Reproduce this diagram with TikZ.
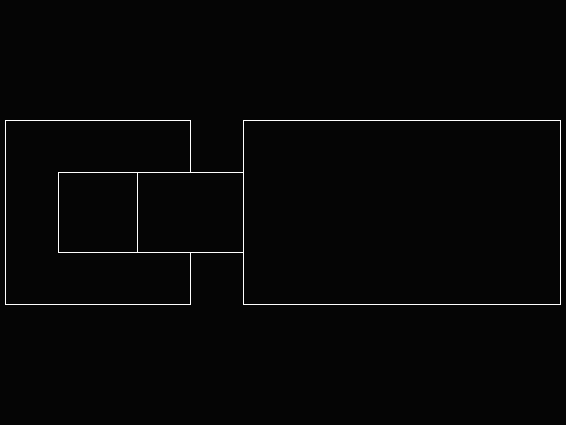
\documentclass[tikz,border=0pt]{standalone}
\definecolor{bg}{RGB}{5,5,5}
\begin{document}
\begin{tikzpicture}[x=1pt,y=-1pt,
  box/.style={draw=white, line width=1pt, fill=bg, inner sep=0pt, outer sep=0pt}]
\fill[bg] (0,0) rectangle (566,425);
\useasboundingbox (0,0) rectangle (566,425);
\node[box, minimum width=185pt, minimum height=184pt] (a) at (97.5,212.5) {};
\node[box, minimum width=317pt, minimum height=184pt] (b) at (401.5,212.5) {};
\node[box, minimum width=106pt, minimum height=80pt] (c) at (190,212.5) {};
\node[box, minimum width=79pt, minimum height=80pt] (d) at (97.5,212.5) {};
\end{tikzpicture}
\end{document}
